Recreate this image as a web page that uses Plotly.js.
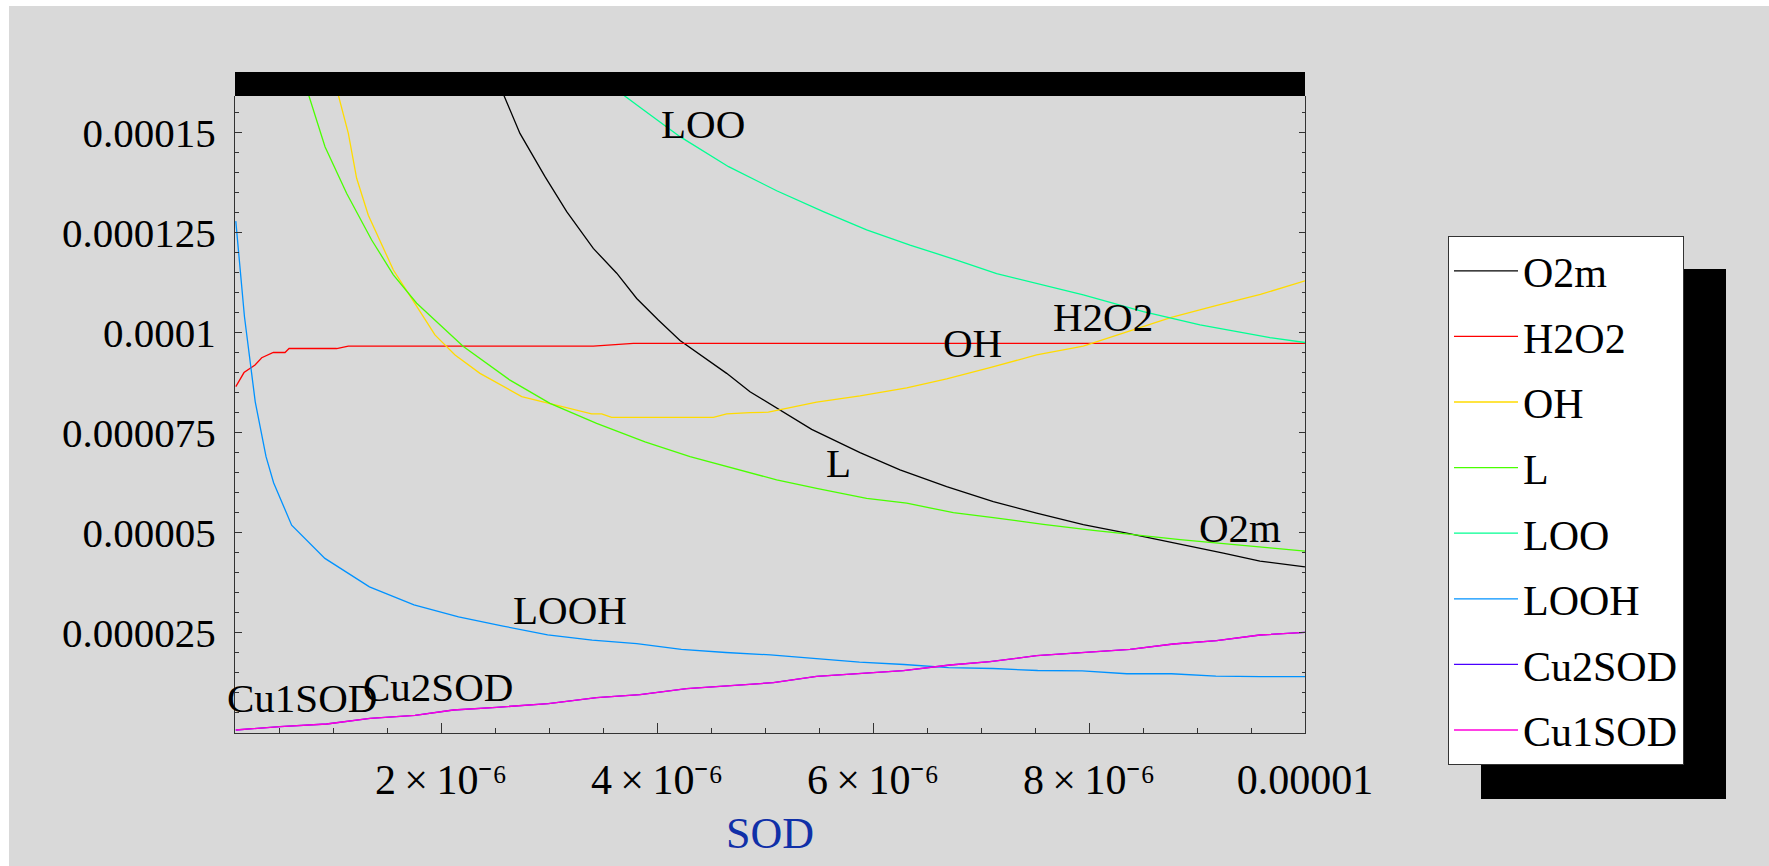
<!DOCTYPE html>
<html>
<head>
<meta charset="utf-8">
<script src="https://cdn.plot.ly/plotly-3.0.1.min.js"></script>
<style>
  html, body { margin: 0; padding: 0; background: #ffffff; }
  #chart { width: 1769px; height: 866px; }
</style>
</head>
<body>
<div id="chart"></div>
<script>
// ---------- data (SOD concentration vs species) ----------
const seriesNames = ["O2m", "H2O2", "OH", "L", "LOO", "LOOH", "Cu2SOD", "Cu1SOD"];
const seriesColors = ["#000000", "#ff0000", "#ffdb00", "#49ff00", "#00ff92", "#0092ff", "#4900ff", "#ff00db"];

const O2m_x = [0.925e-6, 1.75e-6, 2.1625e-6, 2.731e-6, 2.963e-6, 3.164e-6, 3.41e-6, 3.627e-6, 3.812e-6, 4.012e-6, 4.213e-6, 4.429e-6, 4.645e-6, 4.861e-6, 5.139e-6, 5.432e-6, 5.88e-6, 6.25e-6, 6.682e-6, 7.114e-6, 7.515e-6, 7.947e-6, 8.349e-6, 8.812e-6, 9.244e-6, 9.583e-6, 10e-6];
const O2m_y = [443e-6, 234e-6, 186e-6, 149.7e-6, 138.9e-6, 130.2e-6, 121.0e-6, 114.8e-6, 108.5e-6, 103.1e-6, 98.0e-6, 94.0e-6, 89.8e-6, 85.2e-6, 80.6e-6, 75.8e-6, 70.0e-6, 65.7e-6, 61.5e-6, 57.8e-6, 54.9e-6, 52.0e-6, 49.9e-6, 47.4e-6, 44.9e-6, 42.9e-6, 41.5e-6];

const H2O2_x = [0.1e-6, 0.176e-6, 0.278e-6, 0.34e-6, 0.447e-6, 0.556e-6, 0.593e-6, 1.034e-6, 1.142e-6, 3.41e-6, 3.781e-6, 10e-6];
const H2O2_y = [86.5e-6, 90.0e-6, 91.9e-6, 93.7e-6, 95.0e-6, 95.0e-6, 96.0e-6, 96.0e-6, 96.6e-6, 96.6e-6, 97.3e-6, 97.3e-6];

const OH_x = [0.5125e-6, 0.926e-6, 1.142e-6, 1.219e-6, 1.327e-6, 1.559e-6, 1.728e-6, 1.944e-6, 2.13e-6, 2.361e-6, 2.747e-6, 3.009e-6, 3.395e-6, 3.488e-6, 3.58e-6, 4.522e-6, 4.645e-6, 4.861e-6, 5.031e-6, 5.478e-6, 5.88e-6, 6.312e-6, 6.682e-6, 7.083e-6, 7.515e-6, 7.947e-6, 8.35e-6, 8.7625e-6, 9.175e-6, 9.5875e-6, 10e-6];
const OH_y = [230e-6, 172e-6, 149.7e-6, 138.5e-6, 129.3e-6, 115.6e-6, 108.5e-6, 99.4e-6, 94.4e-6, 89.8e-6, 84.0e-6, 82.3e-6, 79.7e-6, 79.7e-6, 78.8e-6, 78.8e-6, 79.7e-6, 80.0e-6, 80.1e-6, 82.6e-6, 84.2e-6, 86.2e-6, 88.4e-6, 91.2e-6, 94.4e-6, 96.6e-6, 100.2e-6, 103.8e-6, 106.7e-6, 109.5e-6, 112.9e-6];

const L_x = [0.1e-6, 0.5125e-6, 0.926e-6, 1.127e-6, 1.358e-6, 1.559e-6, 1.775e-6, 2.207e-6, 2.639e-6, 3.009e-6, 3.441e-6, 3.889e-6, 4.306e-6, 4.861e-6, 5.108e-6, 5.478e-6, 5.941e-6, 6.312e-6, 6.744e-6, 7.114e-6, 7.577e-6, 8.04e-6, 8.843e-6, 9.676e-6, 10e-6];
const L_y = [300e-6, 181.6e-6, 146.4e-6, 134.7e-6, 123.1e-6, 114.4e-6, 107.3e-6, 96.5e-6, 88.1e-6, 82.3e-6, 77.3e-6, 72.7e-6, 69.0e-6, 65.0e-6, 63.2e-6, 61.1e-6, 58.6e-6, 57.4e-6, 55.0e-6, 53.8e-6, 52.1e-6, 50.6e-6, 48.3e-6, 46.2e-6, 45.4e-6];

const LOO_x = [0.925e-6, 1.75e-6, 2.575e-6, 3.4e-6, 3.873e-6, 4.213e-6, 4.663e-6, 5.108e-6, 5.54e-6, 5.941e-6, 6.343e-6, 6.775e-6, 7.145e-6, 7.577e-6, 7.947e-6, 8.503e-6, 9.028e-6, 9.676e-6, 10e-6];
const LOO_y = [330e-6, 235e-6, 190e-6, 165.1e-6, 155.6e-6, 148.9e-6, 141.4e-6, 135.4e-6, 130.2e-6, 125.6e-6, 121.8e-6, 118.1e-6, 114.7e-6, 111.9e-6, 109.4e-6, 105.2e-6, 101.9e-6, 98.7e-6, 97.5e-6];

const LOOH_x = [0.1e-6, 0.18e-6, 0.28e-6, 0.38e-6, 0.45e-6, 0.617e-6, 0.925e-6, 1.3375e-6, 1.75e-6, 2.1625e-6, 2.575e-6, 2.9875e-6, 3.4e-6, 3.8125e-6, 4.225e-6, 4.6375e-6, 5.05e-6, 5.4625e-6, 5.875e-6, 6.2875e-6, 6.7e-6, 7.1125e-6, 7.525e-6, 7.9375e-6, 8.35e-6, 8.7625e-6, 9.175e-6, 9.5875e-6, 10e-6];
const LOOH_y = [127.8e-6, 104e-6, 82.7e-6, 69e-6, 62.5e-6, 51.9e-6, 43.6e-6, 36.5e-6, 32.0e-6, 29.0e-6, 26.7e-6, 24.5e-6, 23.2e-6, 22.3e-6, 20.9e-6, 20.1e-6, 19.5e-6, 18.6e-6, 17.7e-6, 17.1e-6, 16.3e-6, 16.1e-6, 15.6e-6, 15.5e-6, 14.8e-6, 14.8e-6, 14.2e-6, 14.1e-6, 14.1e-6];

const Cu2SOD_x = [0.1e-6, 0.509e-6, 0.941e-6, 1.343e-6, 1.759e-6, 2.114e-6, 2.515e-6, 2.994e-6, 3.441e-6, 3.843e-6, 4.275e-6, 4.861e-6, 5.077e-6, 5.478e-6, 5.941e-6, 6.281e-6, 6.713e-6, 7.083e-6, 7.515e-6, 7.947e-6, 8.38e-6, 8.78e-6, 9.182e-6, 9.583e-6, 10e-6];
const Cu2SOD_y = [0.75e-6, 1.6e-6, 2.25e-6, 3.66e-6, 4.41e-6, 5.74e-6, 6.41e-6, 7.33e-6, 8.82e-6, 9.57e-6, 11.07e-6, 12.15e-6, 12.57e-6, 14.16e-6, 15.07e-6, 15.57e-6, 16.98e-6, 17.81e-6, 19.31e-6, 20.14e-6, 20.89e-6, 22.22e-6, 23.05e-6, 24.47e-6, 25.14e-6];

const Cu1SOD_x = [0.1e-6, 0.509e-6, 0.941e-6, 1.343e-6, 1.759e-6, 2.114e-6, 2.515e-6, 2.994e-6, 3.441e-6, 3.843e-6, 4.275e-6, 4.861e-6, 5.077e-6, 5.478e-6, 5.941e-6, 6.281e-6, 6.713e-6, 7.083e-6, 7.515e-6, 7.947e-6, 8.38e-6, 8.78e-6, 9.182e-6, 9.583e-6, 10e-6];
const Cu1SOD_y = [0.75e-6, 1.6e-6, 2.25e-6, 3.66e-6, 4.41e-6, 5.74e-6, 6.41e-6, 7.33e-6, 8.82e-6, 9.57e-6, 11.07e-6, 12.15e-6, 12.57e-6, 14.16e-6, 15.07e-6, 15.57e-6, 16.98e-6, 17.81e-6, 19.31e-6, 20.14e-6, 20.89e-6, 22.22e-6, 23.05e-6, 24.47e-6, 25.14e-6];

// in-plot curve labels (as placed in the reference)
const labelText = ["LOO", "OH", "H2O2", "L", "O2m", "LOOH", "Cu2SOD", "Cu1SOD"];
const labelX = [4.429e-6, 6.917e-6, 8.132e-6, 5.679e-6, 9.394e-6, 3.192e-6, 1.972e-6, 0.71e-6];
const labelY = [152.1e-6, 97.3e-6, 103.9e-6, 67.5e-6, 51.1e-6, 30.7e-6, 11.6e-6, 8.66e-6];

// axis ticks
const xTickVals = [2e-6, 4e-6, 6e-6, 8e-6, 1e-5];
const xTickText = ["2\u2009×\u200910\u207B\u2076", "4\u2009×\u200910\u207B\u2076", "6\u2009×\u200910\u207B\u2076", "8\u2009×\u200910\u207B\u2076", "0.00001"];
const yTickVals = [0, 0.000025, 0.00005, 0.000075, 0.0001, 0.000125, 0.00015];
const yTickText = ["", "0.000025", "0.00005", "0.000075", "0.0001", "0.000125", "0.00015"];

// ---------- build traces ----------
const xs = [O2m_x, H2O2_x, OH_x, L_x, LOO_x, LOOH_x, Cu2SOD_x, Cu1SOD_x];
const ys = [O2m_y, H2O2_y, OH_y, L_y, LOO_y, LOOH_y, Cu2SOD_y, Cu1SOD_y];

const FONT = "'Liberation Serif', 'Times New Roman', serif";

const traces = seriesNames.map((name, i) => ({
  type: "scatter",
  mode: "lines",
  name: name,
  legendgroup: name,
  x: xs[i],
  y: ys[i],
  line: { color: seriesColors[i], width: 1.3 },
  hoverinfo: "x+y+name"
}));

const annotations = labelText.map((t, i) => ({
  text: t,
  x: labelX[i],
  y: labelY[i],
  xref: "x",
  yref: "y",
  xanchor: "center",
  yanchor: "middle",
  showarrow: false,
  font: { family: FONT, size: 41, color: "#000000" }
}));

// minor tick positions (axis decoration)
const yMinor = [];
for (let k = 0; k <= 32; k++) yMinor.push(k * 5e-6);
const xMinor = [];
for (let k = 1; k <= 20; k++) xMinor.push(k * 0.5e-6);

const layout = {
  width: 1769,
  height: 866,
  margin: { l: 235, r: 464, t: 96, b: 133, pad: 0 },
  paper_bgcolor: "#ffffff",
  plot_bgcolor: "rgba(0,0,0,0)",
  font: { family: FONT, size: 41, color: "#000000" },
  showlegend: true,
  legend: {
    x: 1.13364, y: 0.78022, xanchor: "left", yanchor: "top",
    bgcolor: "#ffffff", bordercolor: "#333333", borderwidth: 1,
    font: { family: FONT, size: 42, color: "#000000" },
    traceorder: "grouped", tracegroupgap: 8, itemwidth: 64
  },
  annotations: annotations,
  xaxis: {
    range: [0.0926e-6, 10e-6],
    tickmode: "array", tickvals: xTickVals, ticktext: xTickText,
    ticks: "inside", ticklen: 10, tickwidth: 1, tickcolor: "#333333",
    minor: { tickmode: "array", tickvals: xMinor, ticks: "inside", ticklen: 5.5, tickwidth: 1, tickcolor: "#333333" },
    showline: true, linecolor: "#333333", linewidth: 1, mirror: false,
    showgrid: false, zeroline: false,
    tickfont: { family: FONT, size: 42, color: "#000000" },
    ticklabelstandoff: 10,
    title: { text: "SOD", font: { family: FONT, size: 44, color: "#1030a8" }, standoff: 14 }
  },
  yaxis: {
    range: [0, 159.05e-6],
    tickmode: "array", tickvals: yTickVals, ticktext: yTickText,
    ticks: "inside", ticklen: 6.5, tickwidth: 1, tickcolor: "#333333",
    minor: { tickmode: "array", tickvals: yMinor, ticks: "inside", ticklen: 3.5, tickwidth: 1, tickcolor: "#333333" },
    showline: true, linecolor: "#333333", linewidth: 1, mirror: "ticks",
    showgrid: false, zeroline: false,
    tickfont: { family: FONT, size: 41, color: "#000000" },
    ticklabelstandoff: 10
  },
  shapes: [
    // grey page background (white strip at the top and left edges)
    { type: "rect", xref: "paper", yref: "paper", x0: -0.2112, x1: 1.5, y0: -0.5, y1: 1.1413,
      fillcolor: "#d9d9d9", line: { width: 0 }, layer: "below" },
    // black band on top of the frame
    { type: "rect", xref: "paper", yref: "paper", x0: 0, x1: 1, y0: 1, y1: 1.03768,
      fillcolor: "#000000", line: { width: 0 }, layer: "above" },
    // legend drop shadow
    { type: "rect", xref: "paper", yref: "paper", x0: 1.16449, x1: 1.39346, y0: -0.10361, y1: 0.72841,
      fillcolor: "#000000", line: { width: 0 }, layer: "above" }
  ]
};

Plotly.newPlot("chart", traces, layout, { displayModeBar: false, responsive: false });
</script>
</body>
</html>
